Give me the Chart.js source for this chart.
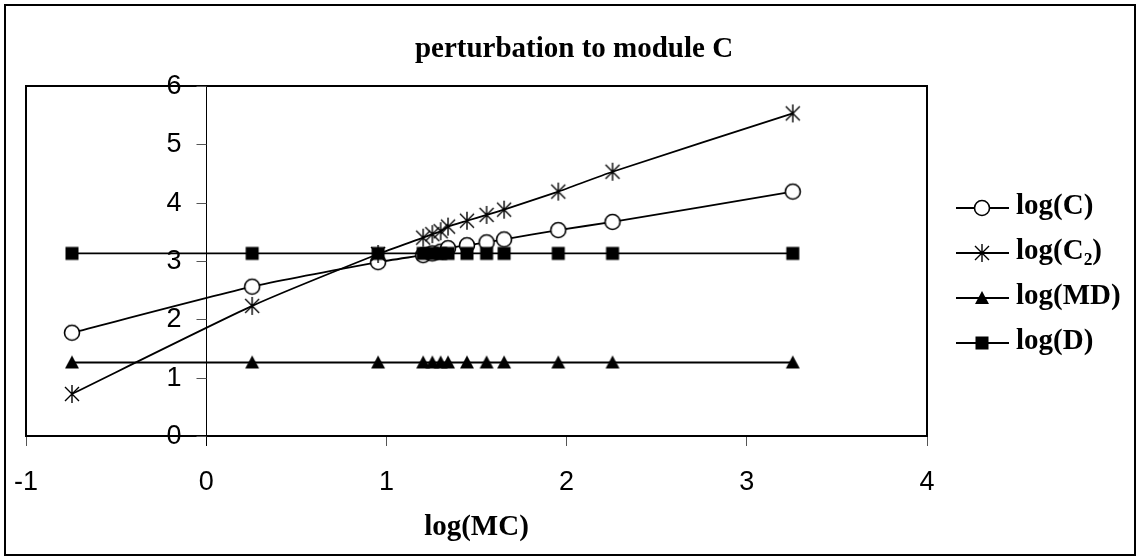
<!DOCTYPE html>
<html>
<head>
<meta charset="utf-8">
<script src="https://cdn.jsdelivr.net/npm/chart.js@4"></script>
<style>
  body { margin: 0; background: #fff; }
  canvas { display: block; }
</style>
</head>
<body>
<canvas id="grafico" width="1138" height="558"></canvas>
<script>
// log(MC) values on the x axis
const logMC = [-0.745, 0.255, 0.954, 1.204, 1.255, 1.301, 1.342, 1.447, 1.556, 1.653, 1.954, 2.255, 3.255];
// series
const logC  = [1.77, 2.56, 2.98, 3.10, 3.13, 3.16, 3.22, 3.27, 3.32, 3.37, 3.53, 3.67, 4.19];
const logC2 = [0.72, 2.23, 3.12, 3.40, 3.46, 3.51, 3.59, 3.69, 3.79, 3.88, 4.19, 4.53, 5.53];
const logMD = [1.26, 1.26, 1.26, 1.26, 1.26, 1.26, 1.26, 1.26, 1.26, 1.26, 1.26, 1.26, 1.26];
const logD  = [3.13, 3.13, 3.13, 3.13, 3.13, 3.13, 3.13, 3.13, 3.13, 3.13, 3.13, 3.13, 3.13];
const seriesNames = ['log(C)', 'log(C\u2082)', 'log(MD)', 'log(D)'];
const yTicks = [0, 1, 2, 3, 4, 5, 6];

const serif = "'Liberation Serif', 'Times New Roman', serif";
const sans = "'Liberation Sans', Arial, sans-serif";

// marker pictures (used for the points and the legend)
function makeMarker(type) {
  const c = document.createElement('canvas');
  c.width = 22; c.height = 22;
  const g = c.getContext('2d');
  g.strokeStyle = '#000';
  g.fillStyle = '#000';
  g.lineWidth = 1.6;
  if (type === 'circle') {
    g.fillStyle = '#fff';
    g.beginPath();
    g.arc(11, 11, 7.5, 0, Math.PI * 2);
    g.fill();
    g.stroke();
  } else if (type === 'star') {
    g.lineWidth = 1.4;
    g.beginPath();
    g.moveTo(11, 2); g.lineTo(11, 20);
    g.moveTo(4, 4); g.lineTo(18, 18);
    g.moveTo(18, 4); g.lineTo(4, 18);
    g.stroke();
  } else if (type === 'triangle') {
    g.beginPath();
    g.moveTo(11, 4); g.lineTo(18, 17); g.lineTo(4, 17);
    g.closePath();
    g.fill();
  } else {
    g.fillRect(4.5, 4.5, 13, 13);
  }
  return c;
}
const markers = [makeMarker('circle'), makeMarker('star'), makeMarker('triangle'), makeMarker('square')];

function pts(ys) {
  return logMC.map((x, i) => ({ x: x, y: ys[i] }));
}

function serie(label, ys, idx, order) {
  return {
    label: label,
    data: pts(ys),
    borderColor: '#000',
    borderWidth: 1.8,
    tension: 0.2,
    pointStyle: markers[idx],
    pointRadius: 8,
    order: order,
    clip: false
  };
}

// title, plot box, y axis at x=0, legend and outer border
const molduras = {
  id: 'molduras',
  beforeDatasetsDraw(chart) {
    const { ctx, chartArea: a, scales } = chart;
    const x0 = Math.round(scales.x.getPixelForValue(0)) + 0.5;
    ctx.save();
    ctx.strokeStyle = '#000';
    ctx.lineWidth = 2;
    ctx.strokeRect(a.left, a.top, a.right - a.left, a.bottom - a.top);
    // y axis line crossing at x = 0
    ctx.lineWidth = 1;
    ctx.beginPath();
    ctx.moveTo(x0, a.top);
    ctx.lineTo(x0, a.bottom + 10);
    ctx.stroke();
    ctx.strokeStyle = '#555';
    ctx.font = '27px ' + sans;
    ctx.fillStyle = '#000';
    ctx.textAlign = 'right';
    ctx.textBaseline = 'middle';
    yTicks.forEach(v => {
      const py = Math.round(scales.y.getPixelForValue(v)) + 0.5;
      ctx.beginPath();
      ctx.moveTo(x0 - 10, py);
      ctx.lineTo(x0, py);
      ctx.stroke();
      ctx.fillText(String(v), x0 - 25, py);
    });
    ctx.restore();
  },
  afterDraw(chart) {
    const { ctx, chartArea: a } = chart;
    ctx.save();
    ctx.strokeStyle = '#000';
    ctx.lineWidth = 2;
    ctx.strokeRect(5, 5, 1130, 550);
    ctx.fillStyle = '#000';
    // title
    ctx.font = 'bold 29px ' + serif;
    ctx.textAlign = 'center';
    ctx.textBaseline = 'alphabetic';
    ctx.fillText('perturbation to module C', 574, 57);
    // legend
    ctx.textAlign = 'left';
    const lx = a.right + 29;
    chart.data.datasets.forEach((ds, i) => {
      const y = 208 + i * 45;
      ctx.lineWidth = 1.8;
      ctx.beginPath();
      ctx.moveTo(lx, y);
      ctx.lineTo(lx + 53, y);
      ctx.stroke();
      ctx.drawImage(markers[i], lx + 26 - 11, y - 11);
      ctx.fillText(ds.label, lx + 60, y + 6);
    });
    ctx.restore();
  }
};

const ctxGrafico = document.getElementById('grafico').getContext('2d');
new Chart(ctxGrafico, {
  type: 'line',
  data: {
    datasets: [
      serie(seriesNames[0], logC, 0, 4),
      serie(seriesNames[1], logC2, 1, 3),
      serie(seriesNames[2], logMD, 2, 2),
      serie(seriesNames[3], logD, 3, 1)
    ]
  },
  options: {
    responsive: false,
    animation: false,
    layout: { padding: { left: 26, right: 211, top: 86, bottom: 13 } },
    plugins: {
      legend: { display: false },
      tooltip: { enabled: false },
      title: { display: false }
    },
    scales: {
      x: {
        type: 'linear',
        min: -1,
        max: 4,
        afterFit: (scale) => {
          scale.height = 109;
          scale.paddingLeft = 0;
          scale.paddingRight = 0;
        },
        ticks: {
          stepSize: 1,
          color: '#000',
          padding: 20,
          font: { family: sans, size: 27 }
        },
        grid: { display: true, drawOnChartArea: false, drawTicks: true, tickLength: 10, color: '#555' },
        border: { display: true, color: '#000', width: 2 },
        title: {
          display: true,
          text: 'log(MC)',
          color: '#000',
          font: { family: serif, size: 29, weight: 'bold' },
          padding: { top: 1, bottom: 0 }
        }
      },
      y: {
        type: 'linear',
        display: false,
        min: 0,
        max: 6
      }
    }
  },
  plugins: [molduras]
});
</script>
</body>
</html>
